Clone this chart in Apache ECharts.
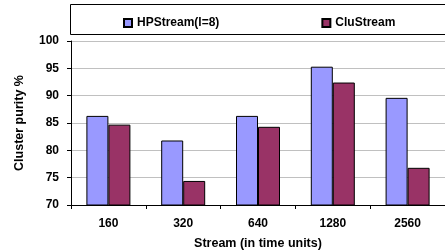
<!DOCTYPE html>
<html>
<head>
<meta charset="utf-8">
<script src="https://cdn.jsdelivr.net/npm/echarts@6/dist/echarts.min.js"></script>
<style>
  html, body { margin: 0; padding: 0; background: #fff; }
  #chart { width: 445px; height: 250px; }
</style>
</head>
<body>
<div id="chart"></div>
<script>
// Cluster purity per stream length.
var categories = ["160", "320", "640", "1280", "2560"];
var hpStream = [86.3, 81.8, 86.3, 95.3, 89.6];
var cluStream = [84.7, 74.4, 84.3, 92.4, 76.8];
var yTicks = { min: 70, max: 100, interval: 5 };

var font = "Liberation Sans, Arial, sans-serif";
var chart = echarts.init(document.getElementById("chart"));

chart.setOption({
  animation: false,
  graphic: [{
    type: "rect",
    left: 70, top: 4,
    shape: { width: 380, height: 30 },
    style: { fill: "#fff", stroke: "#000", lineWidth: 1 },
    z: 0
  }],
  legend: {
    top: 12,
    left: 118,
    itemGap: 102,
    itemWidth: 8,
    itemHeight: 8,
    icon: "rect",
    textStyle: { fontFamily: font, fontWeight: "bold", fontSize: 12, color: "#000" },
    data: ["HPStream(l=8)", "CluStream"],
    z: 5
  },
  grid: { left: 71, right: 0, top: 41, bottom: 45, outerBoundsMode: "none" },
  xAxis: {
    type: "category",
    data: categories,
    name: "Stream (in time units)",
    nameLocation: "middle",
    nameGap: 32,
    nameTextStyle: { fontFamily: font, fontWeight: "bold", fontSize: 12.5, color: "#000" },
    axisLine: { lineStyle: { color: "#000", width: 1 } },
    axisTick: { show: true, length: 4, lineStyle: { color: "#000" } },
    axisLabel: { fontFamily: font, fontWeight: "bold", fontSize: 12, color: "#000", margin: 13 }
  },
  yAxis: {
    type: "value",
    min: yTicks.min,
    max: yTicks.max,
    interval: yTicks.interval,
    name: "Cluster purity %",
    nameLocation: "middle",
    nameGap: 45,
    nameTextStyle: { fontFamily: font, fontWeight: "bold", fontSize: 12.5, color: "#000" },
    axisLine: { show: true, lineStyle: { color: "#000", width: 1 } },
    axisTick: { show: true, length: 4, lineStyle: { color: "#000" } },
    axisLabel: { fontFamily: font, fontWeight: "bold", fontSize: 12, color: "#000", margin: 12 },
    splitLine: { lineStyle: { color: "#c0c0c0", width: 1 } }
  },
  series: [{
    name: "HPStream(l=8)",
    type: "bar",
    data: hpStream,
    barWidth: 22,
    barGap: "0%",
    itemStyle: { color: "#9999ff", borderColor: "#000", borderWidth: 1 }
  }, {
    name: "CluStream",
    type: "bar",
    data: cluStream,
    barWidth: 22,
    itemStyle: { color: "#993366", borderColor: "#000", borderWidth: 1 }
  }]
});
</script>
</body>
</html>
